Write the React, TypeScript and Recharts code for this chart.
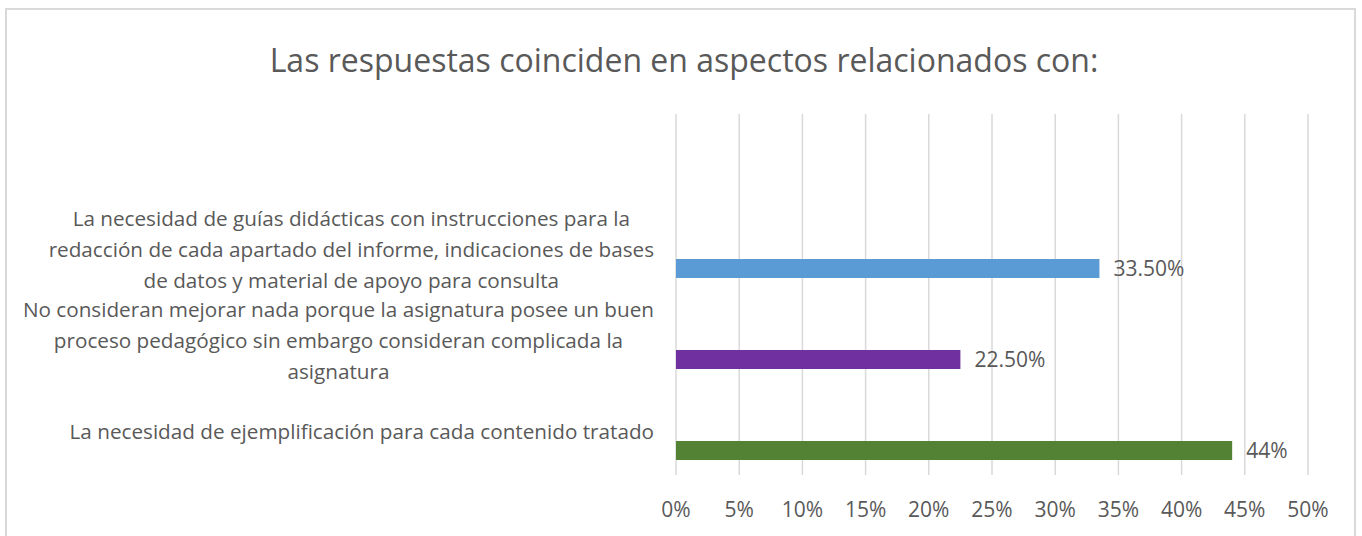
import React from "react";
import { BarChart, Bar, XAxis, YAxis, CartesianGrid, Cell, LabelList } from "recharts";

const title = "Las respuestas coinciden en aspectos relacionados con:";
const categories = [
  "La necesidad de guías didácticas con instrucciones para la\nredacción de cada apartado del informe, indicaciones de bases\nde datos y material de apoyo para consulta",
  "No consideran mejorar nada porque la asignatura posee un buen\nproceso pedagógico sin embargo consideran complicada la\nasignatura",
  "La necesidad de ejemplificación para cada contenido tratado",
];
const values = [0.335, 0.225, 0.44];
const valueLabels = ["33.50%", "22.50%", "44%"];
const barColors = ["#5B9BD5", "#7030A0", "#548235"];
const xTicks = [0, 0.05, 0.1, 0.15, 0.2, 0.25, 0.3, 0.35, 0.4, 0.45, 0.5];
const xTickLabels = ["0%", "5%", "10%", "15%", "20%", "25%", "30%", "35%", "40%", "45%", "50%"];

const data = categories.map((name, i) => ({ name, value: values[i], label: valueLabels[i] }));

const FONT = '"Open Sans", sans-serif';
const CAT_SIZE = 20.7;
const LABEL_RIGHT = 654;
const LINE_H = 31;

let ctx: CanvasRenderingContext2D | null = null;
function measure(t: string): number {
  if (!ctx) {
    const c = document.createElement("canvas");
    ctx = c.getContext("2d");
  }
  if (!ctx) return t.length * CAT_SIZE * 0.5;
  ctx.font = `${CAT_SIZE}px "Open Sans"`;
  return ctx.measureText(t).width;
}

function CategoryTick(props: any) {
  const { y, payload } = props;
  const lines = String(payload.value).split("\n");
  const maxW = Math.max(...lines.map(measure));
  const cx = LABEL_RIGHT - maxW / 2;
  return (
    <g>
      {lines.map((l, i) => (
        <text
          key={i}
          x={cx}
          y={y + (i - (lines.length - 1) / 2) * LINE_H + 2}
          dy="0.35em"
          textAnchor="middle"
          fill="#595959"
          fontSize={CAT_SIZE}
          fontFamily={FONT}
        >
          {l}
        </text>
      ))}
    </g>
  );
}

export default function App() {
  return (
    <div
      style={{
        position: "absolute",
        left: 0,
        top: 0,
        width: 1362,
        height: 536,
        background: "#fff",
        overflow: "hidden",
      }}
    >
      <div
        style={{
          position: "absolute",
          left: 5,
          top: 8,
          width: 1351,
          height: 600,
          border: "2px solid #D9D9D9",
          boxSizing: "border-box",
        }}
      />
      <div
        style={{
          position: "absolute",
          left: 0,
          top: 43,
          width: 1368,
          height: 34,
          lineHeight: "34px",
          textAlign: "center",
          fontFamily: FONT,
          fontSize: 32,
          color: "#595959",
          whiteSpace: "nowrap",
        }}
      >
        {title}
      </div>
      <div style={{ position: "absolute", left: 0, top: 0 }}>
        <BarChart
          width={1362}
          height={536}
          data={data}
          layout="vertical"
          margin={{ top: 114, right: 54, bottom: 21, left: 0 }}
          barGap={23}
        >
          <CartesianGrid horizontal={false} vertical={true} stroke="#D9D9D9" strokeWidth={1.5} />
          <XAxis
            type="number"
            domain={[0, 0.5]}
            ticks={xTicks}
            tickFormatter={(v: number, i: number) => xTickLabels[i]}
            axisLine={false}
            tickLine={false}
            height={40}
            tickMargin={21}
            interval={0}
            tick={{ fill: "#595959", fontSize: 21, fontFamily: FONT }}
          />
          <YAxis
            type="category"
            dataKey="name"
            width={676}
            axisLine={false}
            tickLine={false}
            padding={{ top: 88, bottom: 0 }}
            interval={0}
            tick={<CategoryTick />}
          />
          <Bar dataKey={() => 0} barSize={19} fill="none" isAnimationActive={false} />
          <Bar dataKey="value" barSize={19} isAnimationActive={false}>
            {data.map((d, i) => (
              <Cell key={i} fill={barColors[i]} />
            ))}
            <LabelList
              dataKey="label"
              position="right"
              offset={14}
              fill="#595959"
              fontSize={21}
              fontFamily={FONT}
            />
          </Bar>
        </BarChart>
      </div>
    </div>
  );
}
